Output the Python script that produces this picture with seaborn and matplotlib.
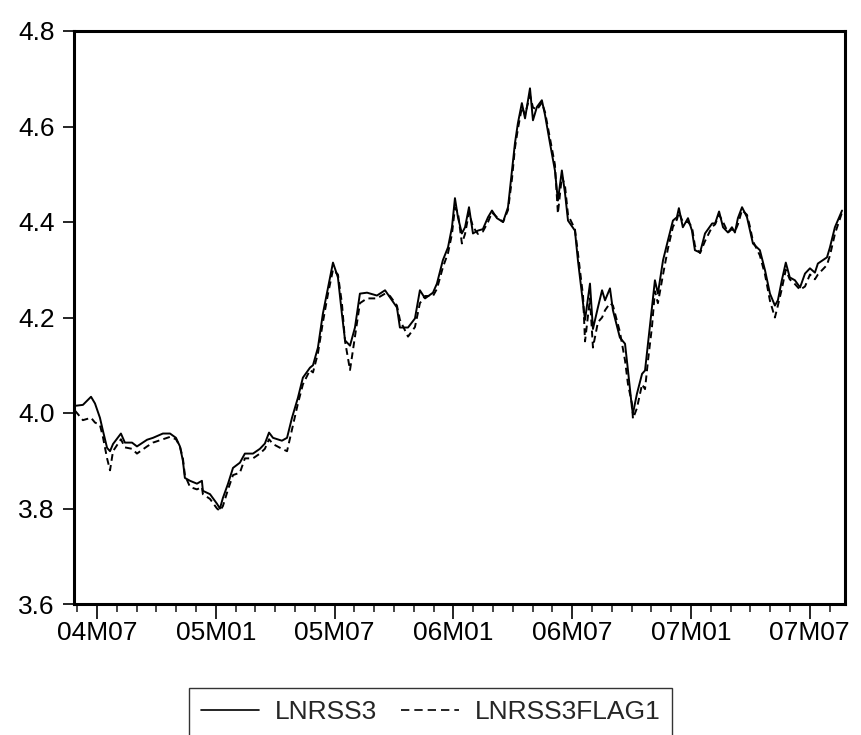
import matplotlib
matplotlib.use("Agg")
import matplotlib.pyplot as plt
import numpy as np
import pandas as pd
import seaborn as sns
from matplotlib.lines import Line2D

# Observation time in months since 2004M01 (6 = 04M07, 12 = 05M01, ...)
t_months = [
    4.89, 5.29, 5.70, 5.90, 6.15, 6.30, 6.51, 6.66, 6.81, 7.21,
    7.41, 7.77, 8.02, 8.53, 8.83, 9.33, 9.69, 9.99, 10.19, 10.34,
    10.44, 10.70, 11.05, 11.30, 11.35, 11.71, 12.06, 12.21, 12.36, 12.62,
    12.87, 13.22, 13.47, 13.88, 14.23, 14.48, 14.69, 14.89, 15.34, 15.60,
    15.85, 16.15, 16.40, 16.76, 16.91, 17.16, 17.41, 17.67, 17.92, 18.17,
    18.37, 18.53, 18.78, 19.03, 19.28, 19.64, 20.14, 20.55, 20.80, 21.15,
    21.30, 21.71, 22.06, 22.31, 22.57, 22.97, 23.17, 23.47, 23.73, 23.93,
    24.08, 24.23, 24.43, 24.59, 24.79, 24.99, 25.24, 25.49, 25.75, 25.95,
    26.20, 26.51, 26.76, 26.96, 27.11, 27.26, 27.46, 27.62, 27.87, 28.02,
    28.22, 28.47, 28.63, 28.88, 29.13, 29.28, 29.48, 29.64, 29.79, 30.14,
    30.29, 30.55, 30.65, 30.90, 31.05, 31.30, 31.51, 31.66, 31.91, 32.06,
    32.41, 32.67, 32.82, 33.02, 33.07, 33.27, 33.53, 33.68, 33.83, 34.03,
    34.18, 34.33, 34.59, 34.84, 35.09, 35.29, 35.39, 35.59, 35.85, 36.05,
    36.20, 36.46, 36.71, 37.07, 37.22, 37.42, 37.62, 37.87, 38.07, 38.22,
    38.37, 38.58, 38.83, 38.98, 39.13, 39.48, 39.74, 39.99, 40.24, 40.39,
    40.59, 40.79, 40.99, 41.25, 41.51, 41.76, 42.01, 42.26, 42.41, 42.87,
    43.02, 43.27, 43.63,
]

lnrss3 = [
    4.015, 4.017, 4.034, 4.020, 3.990, 3.963, 3.927, 3.920, 3.935, 3.957,
    3.938, 3.938, 3.930, 3.944, 3.948, 3.957, 3.957, 3.948, 3.930, 3.900,
    3.864, 3.858, 3.852, 3.858, 3.837, 3.830, 3.810, 3.800, 3.822, 3.852,
    3.885, 3.896, 3.915, 3.915, 3.925, 3.936, 3.959, 3.948, 3.942, 3.948,
    3.990, 4.032, 4.074, 4.095, 4.100, 4.137, 4.208, 4.263, 4.315, 4.284,
    4.208, 4.152, 4.141, 4.179, 4.250, 4.252, 4.246, 4.257, 4.242, 4.221,
    4.179, 4.179, 4.198, 4.257, 4.240, 4.252, 4.271, 4.320, 4.347, 4.389,
    4.450, 4.410, 4.376, 4.389, 4.431, 4.376, 4.382, 4.385, 4.410, 4.424,
    4.408, 4.400, 4.431, 4.508, 4.565, 4.607, 4.649, 4.617, 4.680, 4.613,
    4.641, 4.655, 4.624, 4.565, 4.508, 4.445, 4.508, 4.460, 4.403, 4.382,
    4.320, 4.229, 4.195, 4.271, 4.176, 4.221, 4.257, 4.236, 4.261, 4.215,
    4.158, 4.145, 4.089, 4.011, 3.999, 4.040, 4.082, 4.089, 4.145, 4.221,
    4.278, 4.250, 4.320, 4.362, 4.403, 4.410, 4.429, 4.389, 4.408, 4.382,
    4.341, 4.336, 4.376, 4.397, 4.397, 4.422, 4.389, 4.378, 4.389, 4.378,
    4.408, 4.431, 4.410, 4.382, 4.355, 4.341, 4.299, 4.250, 4.225, 4.236,
    4.278, 4.315, 4.284, 4.278, 4.263, 4.292, 4.303, 4.294, 4.313, 4.326,
    4.347, 4.389, 4.424,
]

lnrss3flag1 = [
    4.005, 3.985, 3.990, 3.980, 3.975, 3.950, 3.905, 3.880, 3.920, 3.945,
    3.928, 3.925, 3.915, 3.930, 3.938, 3.945, 3.950, 3.945, 3.930, 3.905,
    3.870, 3.845, 3.840, 3.845, 3.830, 3.820, 3.800, 3.795, 3.805, 3.840,
    3.870, 3.875, 3.905, 3.905, 3.915, 3.925, 3.945, 3.935, 3.925, 3.920,
    3.965, 4.020, 4.060, 4.090, 4.085, 4.125, 4.190, 4.250, 4.300, 4.290,
    4.230, 4.150, 4.090, 4.160, 4.230, 4.240, 4.240, 4.250, 4.245, 4.225,
    4.195, 4.160, 4.180, 4.230, 4.245, 4.245, 4.260, 4.305, 4.335, 4.375,
    4.430, 4.420, 4.355, 4.375, 4.420, 4.390, 4.375, 4.380, 4.400, 4.420,
    4.410, 4.400, 4.425, 4.490, 4.555, 4.595, 4.640, 4.625, 4.665, 4.640,
    4.635, 4.650, 4.630, 4.575, 4.520, 4.418, 4.495, 4.475, 4.415, 4.385,
    4.335, 4.245, 4.150, 4.240, 4.137, 4.190, 4.200, 4.215, 4.230, 4.225,
    4.170, 4.110, 4.060, 4.020, 3.988, 4.010, 4.060, 4.050, 4.110, 4.180,
    4.255, 4.230, 4.290, 4.345, 4.390, 4.405, 4.420, 4.400, 4.400, 4.390,
    4.350, 4.335, 4.360, 4.390, 4.395, 4.415, 4.400, 4.378, 4.385, 4.380,
    4.395, 4.425, 4.415, 4.390, 4.360, 4.330, 4.290, 4.235, 4.200, 4.225,
    4.260, 4.300, 4.280, 4.270, 4.258, 4.265, 4.290, 4.280, 4.290, 4.310,
    4.330, 4.375, 4.420,
]

series_names = ["LNRSS3", "LNRSS3FLAG1"]
tick_months = [6, 12, 18, 24, 30, 36, 42]
tick_labels = ["04M07", "05M01", "05M07", "06M01", "06M07", "07M01", "07M07"]
minor_months = list(range(5, 44))
y_ticks = [3.6, 3.8, 4.0, 4.2, 4.4, 4.6, 4.8]

sns.set_style("ticks")
plt.rcParams["font.family"] = ["Liberation Sans", "DejaVu Sans"]

n = len(t_months)
df = pd.DataFrame({
    "t": t_months + t_months,
    "value": lnrss3 + lnrss3flag1,
    "series": [series_names[0]] * n + [series_names[1]] * n,
})

W, H = 861, 735
FS = 19
fig = plt.figure(figsize=(W / 100, H / 100), dpi=100)
fig.patch.set_facecolor("white")
ax = fig.add_axes([74 / W, 131 / H, (845 - 74) / W, (604 - 31) / H])

dash_map = {series_names[0]: "", series_names[1]: (3.5, 2.2)}
sns.lineplot(
    data=df, x="t", y="value", style="series", style_order=series_names,
    dashes=dash_map, color="black", linewidth=1.4, estimator=None,
    sort=False, legend=False, ax=ax,
)

ax.set_xlim(4.84, 43.78)
ax.set_ylim(3.6, 4.8)
ax.set_xlabel("")
ax.set_ylabel("")

ax.set_xticks(tick_months)
ax.set_xticklabels(tick_labels)
ax.set_xticks(minor_months, minor=True)
ax.set_yticks(y_ticks)
ax.set_yticklabels([f"{v:.1f}" for v in y_ticks])

ax.tick_params(axis="x", which="major", direction="out", length=11, width=1.2,
               labelsize=FS, pad=1, colors="black")
ax.tick_params(axis="x", which="minor", direction="out", length=6, width=1.2)
ax.tick_params(axis="y", which="major", direction="out", length=8, width=1.2,
               labelsize=FS, pad=6, colors="black")

for side in ["left", "right", "top", "bottom"]:
    ax.spines[side].set_visible(True)
    ax.spines[side].set_linewidth(2.2)
    ax.spines[side].set_color("black")

handles = [
    Line2D([], [], color="black", linewidth=1.2, linestyle="-"),
    Line2D([], [], color="black", linewidth=1.2, dashes=(5, 3)),
]
leg = fig.legend(
    handles, series_names, loc="upper center",
    bbox_to_anchor=(0.5, 1 - 688 / H), borderaxespad=0, ncol=2,
    frameon=True, fancybox=False, edgecolor="black", fontsize=FS,
    handlelength=2.2, handletextpad=0.6, columnspacing=0.9, borderpad=0.45,
)
leg.get_frame().set_linewidth(1.0)

fig.savefig("out.png", dpi=100, facecolor="white")
